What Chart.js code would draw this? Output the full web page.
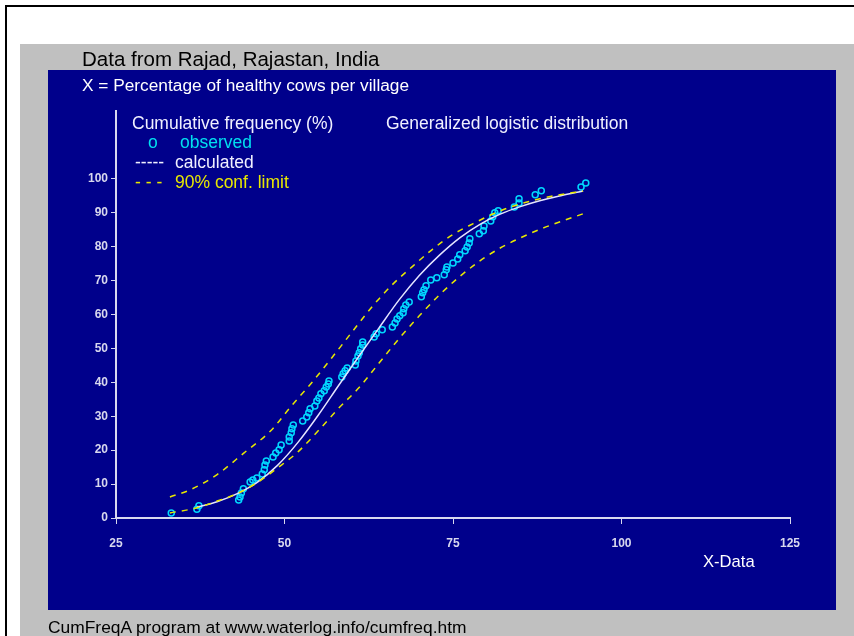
<!DOCTYPE html>
<html lang="en">
<head>
    <meta charset="UTF-8">
    <title>CumFreqA - Rajad</title>
    <script src="https://cdn.jsdelivr.net/npm/chart.js"></script>
    <style>
        body {
            margin: 0;
            width: 854px;
            height: 636px;
            overflow: hidden;
            background: #ffffff;
            font-family: 'Liberation Sans', Arial, sans-serif;
            position: relative;
        }
        .frame {
            position: absolute;
            left: 5px; top: 5px;
            width: 860px; height: 640px;
            border-left: 2px solid #000;
            border-top: 2px solid #000;
        }
        .gray {
            position: absolute;
            left: 20px; top: 44px;
            width: 834px; height: 592px;
            background: #c0c0c0;
        }
        .blue {
            position: absolute;
            left: 48px; top: 70px;
            width: 788px; height: 540px;
            background: #00008b;
        }
        canvas { position: absolute; left: 0; top: 0; }
        .txt {
            position: absolute;
            white-space: nowrap;
            line-height: 1;
        }
        .leg { font-size: 17.5px; }
    </style>
</head>
<body>
    <div class="frame"></div>
    <div class="gray"></div>
    <div class="blue"></div>
    <canvas id="cumChart" width="854" height="636"></canvas>

    <div class="txt" style="left:82px; top:49px; font-size:20.5px; color:#000;">Data from Rajad, Rajastan, India</div>
    <div class="txt" style="left:82px; top:77px; font-size:17.3px; color:#fff;">X = Percentage of healthy cows per village</div>
    <div class="txt leg" style="left:132px; top:115px; color:#f0f0ff;">Cumulative frequency (%)</div>
    <div class="txt leg" style="left:386px; top:115px; color:#f0f0ff;">Generalized logistic distribution</div>
    <div class="txt leg" style="left:148px; top:134px; color:#00e0f0;">o</div>
    <div class="txt leg" style="left:180px; top:134px; color:#00e0f0;">observed</div>
    <div class="txt leg" style="left:135px; top:154px; color:#f0f0ff;">-----</div>
    <div class="txt leg" style="left:175px; top:154px; color:#f0f0ff;">calculated</div>
    <div class="txt leg" style="left:135px; top:174px; color:#e8e800;">- - -</div>
    <div class="txt leg" style="left:175px; top:174px; color:#e8e800;">90% conf. limit</div>
    <div class="txt" style="left:703px; top:554px; font-size:16.6px; color:#fff;">X-Data</div>
    <div class="txt" style="left:48px; top:619px; font-size:17.4px; color:#000;">CumFreqA program at www.waterlog.info/cumfreq.htm</div>

    <script>
        // observed cumulative frequencies
        var obsX = [33.2, 37.0, 37.3, 43.2, 43.4, 43.6, 43.9, 44.9, 45.3, 45.9, 46.7, 47.0, 47.1, 47.3,
            48.3, 48.7, 49.2, 49.5, 50.7, 50.7, 51.0, 51.1, 51.3, 52.7, 53.3, 53.6, 53.8, 54.5, 54.8,
            55.1, 55.4, 55.9, 56.2, 56.5, 56.6, 58.5, 58.7, 59.0, 59.3, 60.5, 60.6, 60.9, 61.1, 61.3,
            61.6, 61.6, 63.3, 63.6, 64.5, 66.0, 66.4, 66.7, 67.1, 67.6, 67.7, 68.0, 68.5, 70.3, 70.5,
            70.7, 71.0, 71.7, 72.6, 73.7, 74.0, 74.1, 75.0, 75.7, 76.0, 76.8, 77.1, 77.4, 77.5, 78.9,
            79.5, 79.6, 80.6, 80.9, 81.2, 81.7, 84.1, 84.8, 84.8, 87.2, 88.1, 94.0, 94.7];
        var obsY = [1.5, 2.6, 3.6, 5.3, 6.2, 7.4, 8.6, 10.6, 11.2, 11.8, 13.0, 14.2, 15.6, 16.8,
            18.0, 19.2, 20.1, 21.5, 22.7, 23.9, 25.1, 26.3, 27.4, 28.6, 29.8, 31.0, 32.2, 33.0, 34.5,
            35.4, 36.6, 37.5, 38.6, 39.5, 40.4, 41.6, 42.5, 43.4, 44.2, 45.1, 46.3, 47.8, 48.7, 49.9,
            51.0, 51.9, 53.4, 54.3, 55.5, 56.3, 57.5, 58.7, 59.6, 60.5, 61.7, 62.8, 63.7, 65.2, 66.4,
            67.3, 68.5, 70.2, 70.8, 71.7, 73.2, 74.0, 75.2, 76.4, 77.6, 78.8, 79.9, 81.1, 82.3, 83.8,
            84.7, 86.1, 87.6, 88.8, 90.0, 90.6, 91.7, 92.9, 94.1, 95.3, 96.5, 97.6, 98.8];

        // calculated generalized logistic curve
        var calcX = [37, 40, 43, 46, 49, 52, 55, 58, 61, 64, 67, 70, 73, 76, 79, 82, 85, 88, 91, 94.3];
        var calcY = [3.2, 4.8, 7.2, 10.6, 15.6, 22.3, 30.3, 39.0, 47.6, 56.0, 64.3, 71.5, 77.5,
            82.6, 86.6, 89.6, 91.8, 93.6, 95.0, 96.4];

        // 90% confidence limits
        var upX = [33, 36, 40, 44, 48, 51, 54, 57, 60, 63, 66, 69, 72, 75, 78, 81, 84, 87, 90, 94.3];
        var upY = [6.2, 8.3, 12.8, 19.2, 25.8, 33.0, 39.8, 47.2, 54.8, 62.3, 68.8, 74.2, 79.3,
            83.6, 86.8, 89.7, 92.0, 93.7, 95.0, 96.4];
        var loX = [33, 37, 40, 43, 46, 49, 52, 55, 58, 61, 64, 67, 70, 73, 76, 79, 82, 85, 88, 91, 94.3];
        var loY = [1.5, 3.0, 5.0, 7.2, 10.5, 14.8, 19.5, 25.7, 32.3, 38.3, 45.6, 52.9, 59.6, 65.8,
            71.2, 75.8, 79.6, 82.6, 85.2, 87.4, 89.7];

        function pts(xs, ys) {
            return xs.map(function (x, i) { return { x: x, y: ys[i] }; });
        }

        var axisColor = '#d8d8ee';
        var tickFont = { family: "'Liberation Sans', Arial, sans-serif", size: 12, weight: 'bold' };

        var ctx = document.getElementById('cumChart').getContext('2d');
        var chart = new Chart(ctx, {
            type: 'scatter',
            data: {
                datasets: [{
                    label: 'upper',
                    data: pts(upX, upY),
                    showLine: true,
                    borderColor: '#e8e800',
                    borderWidth: 1.5,
                    borderDash: [6, 6],
                    pointRadius: 0,
                    cubicInterpolationMode: 'monotone',
                    fill: false
                }, {
                    label: 'lower',
                    data: pts(loX, loY),
                    showLine: true,
                    borderColor: '#e8e800',
                    borderWidth: 1.5,
                    borderDash: [6, 6],
                    pointRadius: 0,
                    cubicInterpolationMode: 'monotone',
                    fill: false
                }, {
                    label: 'calculated',
                    data: pts(calcX, calcY),
                    showLine: true,
                    borderColor: '#e4e4ff',
                    borderWidth: 1.5,
                    pointRadius: 0,
                    cubicInterpolationMode: 'monotone',
                    fill: false
                }, {
                    label: 'observed',
                    data: pts(obsX, obsY),
                    showLine: false,
                    pointStyle: 'circle',
                    pointRadius: 3,
                    pointBorderWidth: 1.5,
                    pointBorderColor: '#00d8ff',
                    pointBackgroundColor: 'transparent'
                }]
            },
            options: {
                responsive: false,
                animation: false,
                devicePixelRatio: 1,
                layout: { padding: { left: 0, right: 64, top: 111, bottom: 0 } },
                plugins: {
                    legend: { display: false },
                    tooltip: { enabled: false }
                },
                scales: {
                    x: {
                        type: 'linear',
                        min: 25,
                        max: 125,
                        ticks: { stepSize: 25, color: axisColor, font: tickFont, padding: 12 },
                        grid: { drawOnChartArea: false, drawTicks: true, tickLength: 6, tickColor: axisColor },
                        border: { color: axisColor, width: 2 },
                        afterFit: function (s) { s.height = 118; }
                    },
                    y: {
                        min: 0,
                        max: 120,
                        ticks: {
                            stepSize: 10,
                            color: axisColor,
                            font: tickFont,
                            padding: 3,
                            callback: function (v) { return v <= 100 ? v : ''; }
                        },
                        grid: {
                            drawOnChartArea: false,
                            drawTicks: true,
                            tickLength: 5,
                            tickColor: function (c) { return c.tick && c.tick.value > 100 ? 'rgba(0,0,0,0)' : axisColor; }
                        },
                        border: { color: axisColor, width: 2 },
                        afterFit: function (s) { s.width = 116; }
                    }
                }
            }
        });
    </script>
</body>
</html>
